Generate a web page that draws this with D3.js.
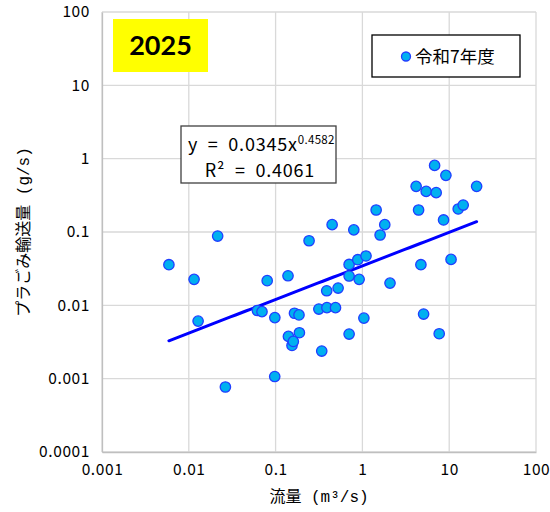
<!DOCTYPE html>
<html>
<head>
<meta charset="utf-8">
<script src="https://cdn.jsdelivr.net/npm/d3@7"></script>
<style>
  body { margin: 0; background: #fff; }
  svg { font-family: "Liberation Mono", "Noto Sans CJK JP", monospace; }
</style>
</head>
<body>
<div id="chart-area"></div>
<script>
// Data (flow m3/s, plastic transport g/s)
var flow = [0.0059, 0.0215, 0.0115, 0.0128, 0.0264, 0.0617, 0.0697, 0.080, 0.098, 0.0977,
            0.139, 0.1405, 0.1545, 0.160, 0.165, 0.186, 0.188, 0.243, 0.315, 0.340,
            0.390, 0.388, 0.448, 0.490, 0.525, 0.703, 0.703, 0.703, 0.796, 0.885,
            0.917, 1.04, 1.10, 1.44, 1.60, 1.81, 2.08, 4.16, 4.44, 4.72,
            5.07, 5.43, 6.79, 7.08, 7.67, 8.61, 9.16, 10.5, 12.7, 14.5, 20.7];
var load = [0.0358, 0.088, 0.0226, 0.0061, 0.00077, 0.0085, 0.0082, 0.0217, 0.0068, 0.00107,
            0.0253, 0.00377, 0.00284, 0.00322, 0.0078, 0.0074, 0.00423, 0.076, 0.0089, 0.00238,
            0.0093, 0.0158, 0.126, 0.0093, 0.0172, 0.0361, 0.0251, 0.00406, 0.107, 0.0419,
            0.0226, 0.0067, 0.0471, 0.1995, 0.091, 0.126, 0.0201, 0.419, 0.1995, 0.0358,
            0.0076, 0.358, 0.81, 0.344, 0.0041, 0.146, 0.592, 0.0423, 0.206, 0.233, 0.419];

var xTicks = [0.001, 0.01, 0.1, 1, 10, 100];
var xTickLabels = ["0.001", "0.01", "0.1", "1", "10", "100"];
var yTicks = [0.0001, 0.001, 0.01, 0.1, 1, 10, 100];
var yTickLabels = ["0.0001", "0.001", "0.01", "0.1", "1", "10", "100"];

// power trend: y = a * x^b
var trendA = 0.0345, trendB = 0.4582;
var seriesName = "令和7年度";
var yearLabel = "2025";

var numFont = "'Noto Sans CJK JP', sans-serif";

var margin = { left: 102, right: 14, top: 12, bottom: 60 };
var width = 550 - margin.left - margin.right,
    height = 512 - margin.top - margin.bottom;

var svg = d3.select("#chart-area")
    .append("svg")
    .attr("width", 550)
    .attr("height", 512);

var g = svg.append("g")
    .attr("transform", "translate(" + margin.left + ", " + margin.top + ")");

var x = d3.scaleLog().domain([0.001, 100]).range([0, width]);
var y = d3.scaleLog().domain([0.0001, 100]).range([height, 0]);

// Gridlines
g.append("g")
    .attr("class", "grid")
    .selectAll("line.gx")
    .data(xTicks)
    .enter().append("line")
    .attr("x1", function(d){ return x(d); })
    .attr("x2", function(d){ return x(d); })
    .attr("y1", 0).attr("y2", height)
    .attr("stroke", "#d9d9d9").attr("stroke-width", 1.3);

g.append("g")
    .attr("class", "grid")
    .selectAll("line.gy")
    .data(yTicks)
    .enter().append("line")
    .attr("x1", 0).attr("x2", width)
    .attr("y1", function(d){ return y(d); })
    .attr("y2", function(d){ return y(d); })
    .attr("stroke", "#d9d9d9").attr("stroke-width", 1.3);

// Axes
var xAxisCall = d3.axisBottom(x)
    .tickValues(xTicks)
    .tickSize(0)
    .tickPadding(12)
    .tickFormat(function(d, i){ return xTickLabels[i]; });

g.append("g")
    .attr("class", "x axis")
    .attr("transform", "translate(0," + height + ")")
    .call(xAxisCall)
    .call(function(a){ a.select(".domain").attr("stroke", "#bfbfbf").attr("stroke-width", 1.3); })
    .selectAll("text")
    .attr("font-family", numFont)
    .attr("font-size", "15.5px")
    .attr("letter-spacing", "0.6px")
    .attr("fill", "#000");

var yAxisCall = d3.axisLeft(y)
    .tickValues(yTicks)
    .tickSize(0)
    .tickPadding(12)
    .tickFormat(function(d, i){ return yTickLabels[i]; });

g.append("g")
    .attr("class", "y axis")
    .call(yAxisCall)
    .call(function(a){ a.select(".domain").attr("stroke", "#bfbfbf").attr("stroke-width", 1.3); })
    .selectAll("text")
    .attr("font-family", numFont)
    .attr("font-size", "15.5px")
    .attr("letter-spacing", "0.6px")
    .attr("fill", "#000");

// Axis labels
g.append("text")
    .attr("x", width / 2)
    .attr("y", height + 50)
    .attr("font-size", "16px")
    .attr("text-anchor", "middle")
    .text("流量 (m³/s)");

g.append("text")
    .attr("transform", "translate(-73," + (height / 2) + ") rotate(-90)")
    .attr("font-size", "16px")
    .attr("text-anchor", "middle")
    .text("プラごみ輸送量 (g/s)");

// Trend line
var xMin = d3.min(flow), xMax = d3.max(flow);
var trendPts = d3.range(0, 61).map(function(i){
    var xv = Math.exp(Math.log(xMin) + (Math.log(xMax) - Math.log(xMin)) * i / 60);
    return [xv, trendA * Math.pow(xv, trendB)];
});

g.append("path")
    .datum(trendPts)
    .attr("fill", "none")
    .attr("stroke", "#0000ff")
    .attr("stroke-width", 3)
    .attr("stroke-linecap", "round")
    .attr("d", d3.line()
        .x(function(d){ return x(d[0]); })
        .y(function(d){ return y(d[1]); }));

// Points
g.selectAll("circle.pt")
    .data(flow)
    .enter().append("circle")
    .attr("class", "pt")
    .attr("cx", function(d){ return x(d); })
    .attr("cy", function(d, i){ return y(load[i]); })
    .attr("r", 5.2)
    .attr("fill", "#00b0f0")
    .attr("stroke", "#1f3fff")
    .attr("stroke-width", 1.3);

// Equation box
var eq = g.append("g").attr("transform", "translate(79,114)");
eq.append("rect")
    .attr("width", 155).attr("height", 57)
    .attr("fill", "#fff")
    .attr("stroke", "#404040").attr("stroke-width", 1.3);
var eqText = eq.append("text")
    .attr("x", 7).attr("y", 25)
    .attr("font-family", numFont)
    .attr("letter-spacing", "0.8px")
    .attr("font-size", "18px");
eqText.append("tspan").text("y  =  0.0345x");
eqText.append("tspan")
    .attr("dy", -7)
    .attr("font-size", "11.5px")
    .attr("letter-spacing", "0.3px")
    .text("0.4582");
eq.append("text")
    .attr("x", 79).attr("y", 51)
    .attr("font-family", numFont)
    .attr("letter-spacing", "0.8px")
    .attr("font-size", "18px")
    .attr("text-anchor", "middle")
    .attr("xml:space", "preserve")
    .text("R²  =  0.4061");
eqText.attr("xml:space", "preserve");

// Year box
var yr = g.append("g").attr("transform", "translate(11,7)");
yr.append("rect")
    .attr("width", 95).attr("height", 53)
    .attr("fill", "#ffff00");
yr.append("text")
    .attr("x", 47.5).attr("y", 36)
    .attr("font-family", "Lato, 'Liberation Sans', sans-serif")
    .attr("font-weight", "bold")
    .attr("font-size", "27px")
    .attr("text-anchor", "middle")
    .text(yearLabel);

// Legend
var lg = g.append("g").attr("transform", "translate(270,23)");
lg.append("rect")
    .attr("width", 148).attr("height", 42)
    .attr("fill", "#fff")
    .attr("stroke", "#000").attr("stroke-width", 1.3);
lg.append("circle")
    .attr("cx", 34).attr("cy", 21.5).attr("r", 4.5)
    .attr("fill", "#00b0f0")
    .attr("stroke", "#1f3fff")
    .attr("stroke-width", 1.3);
lg.append("text")
    .attr("x", 43).attr("y", 28)
    .attr("font-family", "'Noto Sans CJK JP', sans-serif")
    .attr("font-size", "17.5px")
    .text(seriesName);
</script>
</body>
</html>
